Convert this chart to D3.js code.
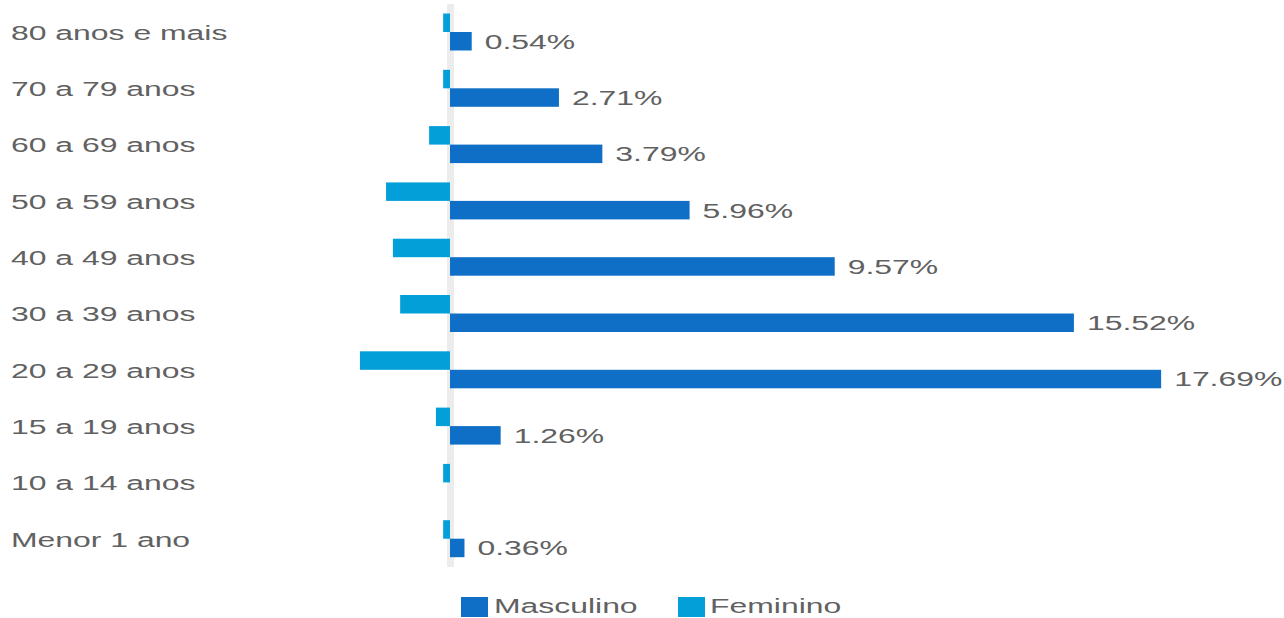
<!DOCTYPE html>
<html>
<head>
<meta charset="utf-8">
<script src="https://cdn.jsdelivr.net/npm/d3@7"></script>
<style>
  html, body { margin: 0; padding: 0; background: #ffffff; }
  svg { display: block; }
  text { font-family: "Liberation Sans", Arial, sans-serif; }
</style>
</head>
<body>
<svg id="chart" width="1284" height="618"></svg>
<script>
// Age groups, top to bottom
const ageGroups = [
  "80 anos e mais", "70 a 79 anos", "60 a 69 anos", "50 a 59 anos",
  "40 a 49 anos", "30 a 39 anos", "20 a 29 anos", "15 a 19 anos",
  "10 a 14 anos", "Menor 1 ano"
];
// Share of cases (%) per sex
const masculino = [0.54, 2.71, 3.79, 5.96, 9.57, 15.52, 17.69, 1.26, 0, 0.36];
const feminino  = [0.17, 0.17, 0.52, 1.59, 1.42, 1.24, 2.24, 0.35, 0.17, 0.17];
const seriesNames = ["Feminino", "Masculino"];
const seriesColors = { Masculino: "#0f6fc6", Feminino: "#039fd9" };

const W = 1284, H = 618;
const textScaleX = 1.52;   // wide lettering
const fontSize = 21;
const textColor = "#616161";

const svg = d3.select("#chart");

const rows = ageGroups.map((g, i) => ({
  group: g,
  Masculino: masculino[i],
  Feminino: feminino[i]
}));

// Scales
const x = d3.scaleLinear().domain([0, 20]).range([450, 1254]);
const y = d3.scaleBand()
  .domain(ageGroups)
  .range([3.85, 566.85])
  .paddingInner(0.343)
  .paddingOuter(0.1715);
const ySub = d3.scaleBand()
  .domain(seriesNames)
  .range([0, y.bandwidth()]);

// Zero line
svg.append("rect")
  .attr("x", x(0) - 3)
  .attr("y", 4)
  .attr("width", 7)
  .attr("height", 563)
  .attr("fill", "#ececec");

// Helper for horizontally widened text
function wideText(sel, tx, ty) {
  return sel.attr("transform", `translate(${tx},${ty}) scale(${textScaleX},1)`)
    .attr("font-size", fontSize)
    .attr("fill", textColor);
}

// Category labels
svg.append("g").selectAll("text")
  .data(rows)
  .join("text")
  .each(function(d) {
    wideText(d3.select(this), 11, y(d.group) + y.bandwidth() / 2 + 0.5);
  })
  .attr("dy", "0.35em")
  .text(d => d.group);

// Bars
const groups = svg.append("g").selectAll("g")
  .data(rows)
  .join("g")
  .attr("transform", d => `translate(0,${y(d.group)})`);

// Feminino: drawn leftward from zero
groups.append("rect")
  .attr("x", d => x(0) - (x(d.Feminino) - x(0)))
  .attr("y", ySub("Feminino"))
  .attr("width", d => x(d.Feminino) - x(0))
  .attr("height", ySub.bandwidth())
  .attr("fill", seriesColors.Feminino);

// Masculino: drawn rightward from zero
groups.append("rect")
  .attr("x", x(0))
  .attr("y", ySub("Masculino"))
  .attr("width", d => x(d.Masculino) - x(0))
  .attr("height", ySub.bandwidth())
  .attr("fill", seriesColors.Masculino);

// Value labels for Masculino
groups.filter(d => d.Masculino > 0)
  .append("text")
  .each(function(d) {
    wideText(d3.select(this), x(d.Masculino) + 13,
      ySub("Masculino") + ySub.bandwidth() / 2);
  })
  .attr("dy", "0.35em")
  .text(d => d.Masculino.toFixed(2) + "%");

// Legend
const legendItems = [
  { name: "Masculino", sx: 461, tx: 494 },
  { name: "Feminino", sx: 678, tx: 710 }
];
const legend = svg.append("g");
legend.selectAll("rect")
  .data(legendItems)
  .join("rect")
  .attr("x", d => d.sx)
  .attr("y", 597)
  .attr("width", 27)
  .attr("height", 20)
  .attr("fill", d => seriesColors[d.name]);
legend.selectAll("text")
  .data(legendItems)
  .join("text")
  .each(function(d) {
    wideText(d3.select(this), d.tx, 612.5);
  })
  .text(d => d.name);
</script>
</body>
</html>
